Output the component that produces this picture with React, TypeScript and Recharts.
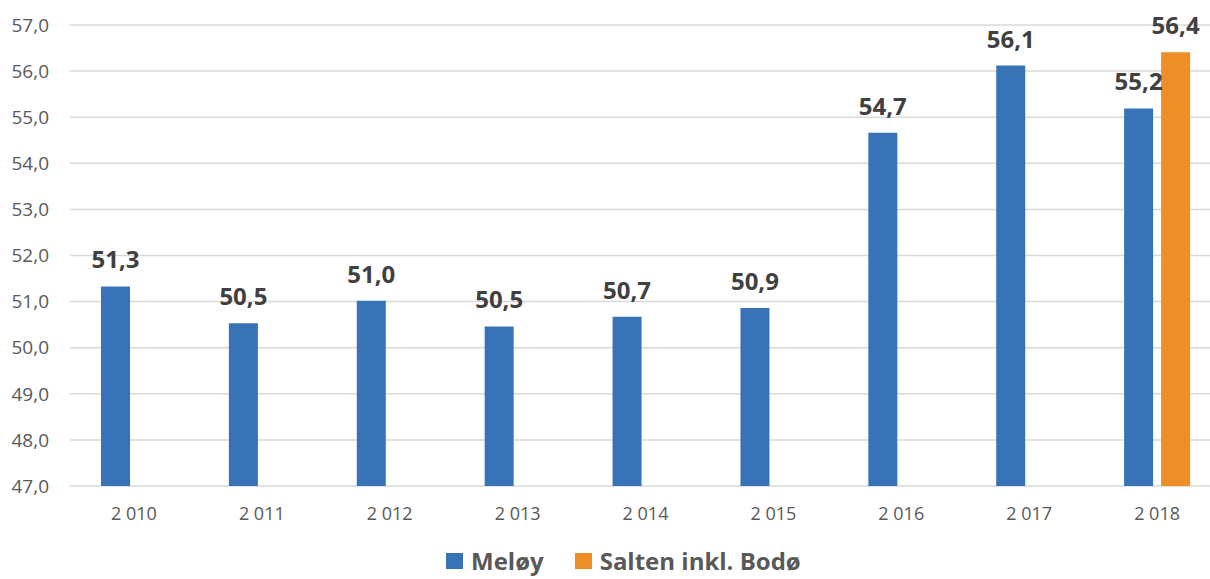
import { BarChart, Bar, XAxis, YAxis, CartesianGrid, LabelList, Legend } from 'recharts'

const years = [2010, 2011, 2012, 2013, 2014, 2015, 2016, 2017, 2018]
const meloy = [51.33, 50.53, 51.02, 50.46, 50.67, 50.86, 54.66, 56.12, 55.19]
const salten = [null, null, null, null, null, null, null, null, 56.41]
const yTicks = [47, 48, 49, 50, 51, 52, 53, 54, 55, 56, 57]

const BLUE = '#3873B8'
const ORANGE = '#EE8E26'
const FONT = '"Open Sans", sans-serif'

const data = years.map((y, i) => ({ year: y, meloy: meloy[i], salten: salten[i] }))

const comma = (v: any) => (v == null ? '' : Number(v).toFixed(1).replace('.', ','))
const spacedYear = (v: any) => String(v).replace(/(\d)(\d{3})$/, '$1 $2')

function LegendBox() {
  const items = [
    { name: 'Meløy', color: BLUE },
    { name: 'Salten inkl. Bodø', color: ORANGE },
  ]
  return (
    <div style={{ display: 'flex', alignItems: 'center', fontFamily: FONT, fontWeight: 700, fontSize: 24, color: '#595959', whiteSpace: 'nowrap' }}>
      {items.map((it, i) => (
        <div key={it.name} style={{ display: 'flex', alignItems: 'center', marginRight: i === 0 ? 31 : 0 }}>
          <span style={{ display: 'inline-block', width: 17, height: 16, background: it.color, marginRight: 8 }} />
          <span>{it.name}</span>
        </div>
      ))}
    </div>
  )
}

export default function App() {
  return (
    <div style={{ position: 'absolute', left: 0, top: 0, width: 1210, height: 579, overflow: 'hidden', background: '#fff' }}>
      <BarChart
        width={1230}
        height={579}
        data={data}
        margin={{ top: 25, right: 9, left: 0, bottom: 63 }}
        barCategoryGap={31}
        barGap={8}
      >
        <CartesianGrid vertical={false} stroke="#D9D9D9" strokeWidth={1.5} />
        <XAxis
          dataKey="year"
          height={30}
          tickFormatter={spacedYear}
          axisLine={false}
          tickLine={false}
          tickSize={0}
          tickMargin={21}
          tick={{ fill: '#595959', fontSize: 18, fontFamily: FONT }}
        />
        <YAxis
          width={70}
          domain={[47, 57]}
          ticks={yTicks}
          tickFormatter={comma}
          axisLine={false}
          tickLine={false}
          tickSize={0}
          tickMargin={21}
          tick={{ fill: '#595959', fontSize: 19, fontFamily: FONT }}
        />
        <Legend
          layout="horizontal"
          verticalAlign="middle"
          align="center"
          content={() => <LegendBox />}
          wrapperStyle={{ left: 446, top: 544, width: 'auto', height: 'auto' }}
        />
        <Bar dataKey="meloy" name="Meløy" fill={BLUE} isAnimationActive={false}>
          <LabelList dataKey="meloy" position="top" offset={18} formatter={comma} fill="#404040" fontSize={24} fontWeight={700} fontFamily={FONT} />
        </Bar>
        <Bar dataKey="salten" name="Salten inkl. Bodø" fill={ORANGE} isAnimationActive={false}>
          <LabelList dataKey="salten" position="top" offset={18} formatter={comma} fill="#404040" fontSize={24} fontWeight={700} fontFamily={FONT} />
        </Bar>
      </BarChart>
    </div>
  )
}
